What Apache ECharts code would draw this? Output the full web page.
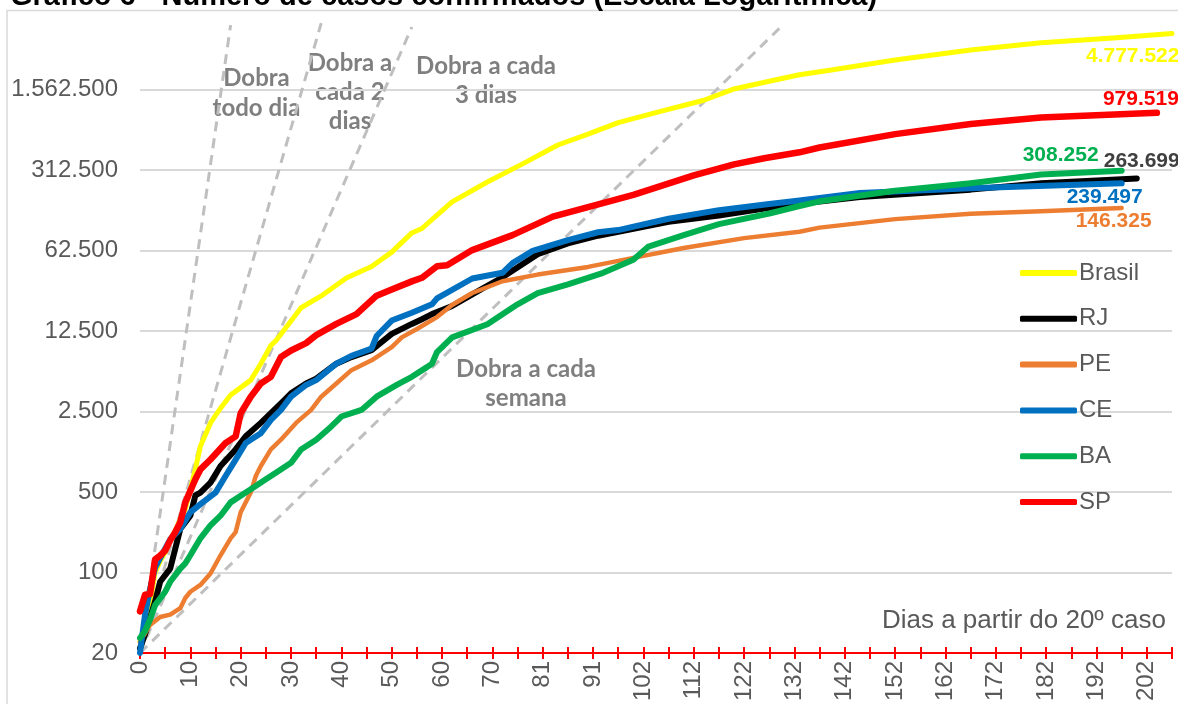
<!DOCTYPE html>
<html>
<head>
<meta charset="utf-8">
<script src="https://cdn.jsdelivr.net/npm/echarts@6/dist/echarts.min.js"></script>
<style>
html,body{margin:0;padding:0;background:#fff;}
#chart{width:1178px;height:704px;}
</style>
</head>
<body>
<div id="chart"></div>
<script>
// dias (indice) -> rotulo do eixo, a cada 10 pontos
var xTickLabels = ['0','10','20','30','40','50','60','70','81','91','102','112','122','132','142','152','162','172','182','192','202'];
var yTicks = [20, 100, 500, 2500, 12500, 62500, 312500, 1562500];

// [indice do dia, casos acumulados]
var brasil = [[0,25],[1,32],[2,55],[3,100],[4,125],[5,150],[6,190],[7,230],[8,290],[9,355],[11,790],[12,1250],[14,1990],[16,2670],[18,3480],[22,4680],[24,6500],[26,9350],[27,10300],[32,19900],[36,25200],[41,36100],[46,45300],[50,60500],[54,88800],[56,97000],[59,127000],[62,165000],[69,246000],[76,353000],[83,515000],[89,641000],[95,806000],[103,1000000],[112,1260000],[118,1580000],[125,1840000],[131,2100000],[137,2300000],[150,2820000],[165,3440000],[179,3970000],[194,4400000],[205,4777522]];
var rj = [[0,22],[1,29],[3,56],[4,83],[6,108],[7,161],[8,239],[10,311],[11,467],[12,494],[14,603],[16,840],[19,1170],[21,1520],[24,1990],[26,2413],[28,2940],[30,3590],[33,4376],[35,4820],[39,6500],[42,7420],[46,8500],[50,11800],[54,14400],[56,15800],[58,17500],[62,20600],[66,26000],[72,36600],[79,58000],[85,72000],[91,84000],[95,91000],[105,111000],[115,126000],[125,147000],[131,159000],[143,182000],[165,211000],[179,240000],[198,263699]];
var pe = [[0,25],[2,35],[4,41],[6,43],[8,49],[9,60],[10,68],[12,78],[14,98],[16,141],[18,198],[19,224],[20,333],[22,494],[23,688],[24,840],[26,1170],[28,1423],[31,1990],[34,2580],[36,3360],[39,4376],[42,5710],[46,6950],[50,9060],[52,11000],[55,13000],[59,16500],[62,21000],[66,26700],[72,33800],[79,38600],[89,45000],[99,55000],[108,65600],[120,80000],[131,91000],[135,98700],[150,117000],[165,130000],[179,137000],[195,146325]];
var ce = [[0,20],[1,43],[2,72],[3,110],[5,161],[6,194],[8,239],[10,333],[12,392],[15,494],[17,688],[19,955],[21,1330],[24,1620],[26,2115],[28,2580],[30,3360],[33,4250],[35,4680],[39,6500],[42,7600],[46,8780],[47,11300],[50,15400],[54,18000],[58,21300],[59,24000],[66,35700],[72,40000],[74,48600],[78,62000],[85,77000],[91,90000],[95,94000],[105,118000],[115,140000],[125,158000],[131,170000],[143,197000],[165,217000],[195,239497]];
var ba = [[0,27],[1,31],[2,39],[3,52],[5,68],[6,83],[8,108],[9,120],[10,141],[12,198],[14,256],[16,311],[18,406],[20,463],[22,528],[25,644],[27,735],[30,895],[32,1170],[35,1423],[38,1855],[40,2260],[44,2580],[47,3360],[51,4250],[54,4996],[57,6070],[58,6500],[59,8200],[62,11000],[69,14300],[75,21300],[79,26700],[85,31800],[92,40000],[98,51900],[101,67600],[108,85000],[115,106000],[125,131000],[131,152000],[135,167000],[150,206000],[165,240000],[179,285000],[195,308252]];
var sp = [[0,46],[1,64],[2,65],[3,130],[4,140],[5,155],[6,190],[7,224],[8,273],[9,406],[11,644],[12,785],[14,957],[17,1332],[19,1520],[20,2413],[22,3360],[24,4376],[26,4996],[28,7420],[30,8468],[33,9800],[35,11500],[39,14400],[43,17500],[47,25300],[50,28700],[54,33700],[56,36200],[59,45600],[61,46500],[66,63000],[74,85000],[82,123000],[89,149000],[98,190000],[102,216000],[110,281000],[118,350000],[124,395000],[131,445000],[135,490000],[150,640000],[165,783000],[179,894000],[202,979519]];

// retas de referencia (duplicacao)
var refDaily = [[0,20],[18,5660000]];
var ref2Days = [[0,20],[36,5900000]];
var ref3Days = [[0,20],[54,5450000]];
var refWeek = [[0,20],[127,5300000]];

function fmt(v){
	return String(Math.round(v)).replace(/\B(?=(\d{3})+(?!\d))/g, '.');
}

function dataSeries(name, data, color, width, labelColor, off){
	return {
		name: name,
		type: 'line',
		data: data,
		symbol: 'none',
		lineStyle: {color: color, width: width, cap: 'round', join: 'round'},
		itemStyle: {color: color},
		endLabel: {
			show: true,
			distance: 0,
			offset: off,
			align: 'left',
			color: labelColor,
			fontSize: 21,
			fontWeight: 'bold',
			fontFamily: 'Liberation Sans',
			formatter: function(p){ return fmt(p.value[1]); }
		},
		animation: false
	};
}

function refSeries(name, data){
	return {
		name: name,
		type: 'line',
		data: data,
		symbol: 'none',
		silent: true,
		lineStyle: {color: '#BFBFBF', width: 3, type: [10, 7]},
		animation: false
	};
}

var myChart = echarts.init(document.getElementById('chart'));
var option = {
	backgroundColor: '#fff',
	animation: false,
	grid: {left: 140, right: 6, top: 9, bottom: 45.5, containLabel: false},
	legend: {
		data: ['Brasil','RJ','PE','CE','BA','SP'],
		orient: 'vertical',
		left: 1020,
		top: 261,
		padding: 0,
		icon: 'roundRect',
		itemWidth: 57,
		itemHeight: 6,
		itemGap: 21.8,
		textStyle: {fontSize: 24, color: '#595959', fontFamily: 'Liberation Sans', lineHeight: 24, padding: [0, 0, 0, -3]}
	},
	xAxis: [{
		type: 'value',
		min: 0,
		max: 205,
		interval: 5,
		axisLine: {lineStyle: {color: '#FF0000', width: 2}},
		axisTick: {length: 6, lineStyle: {color: '#FF0000', width: 2}},
		axisLabel: {
			rotate: 90,
			margin: 8,
			fontSize: 24,
			color: '#595959',
			fontFamily: 'Liberation Sans',
			formatter: function(v){ return v % 10 === 0 ? xTickLabels[v / 10] : ''; }
		},
		splitLine: {show: false}
	}, {
		type: 'value',
		position: 'bottom',
		min: 0,
		max: 205,
		interval: 5,
		axisLine: {show: false},
		axisTick: {inside: true, length: 6, lineStyle: {color: '#FF0000', width: 2}},
		axisLabel: {show: false},
		splitLine: {show: false}
	}],
	yAxis: {
		type: 'log',
		logBase: 5,
		min: 20,
		max: 7812500,
		axisLine: {show: false},
		axisTick: {show: false, customValues: yTicks},
		axisLabel: {
			customValues: yTicks,
			margin: 22,
			fontSize: 24,
			color: '#595959',
			fontFamily: 'Liberation Sans',
			formatter: fmt
		},
		splitLine: {lineStyle: {color: '#D9D9D9', width: 2}}
	},
	graphic: [
		{type: 'rect', silent: true, shape: {x: 7, y: 10.5, width: 1300, height: 900}, style: {fill: 'none', stroke: '#D9D9D9', lineWidth: 1.5}},
		{type: 'text', x: 10, y: -3, style: {text: 'Gráfico 6 - Número de casos confirmados (Escala Logarítmica)', font: 'bold 29px "Liberation Sans"', fill: '#000', textVerticalAlign: 'middle'}},
		{type: 'text', x: 256.5, y: 93, style: {text: 'Dobra\ntodo dia', font: 'bold 24px Lato', lineHeight: 30, fill: '#7F7F7F', textAlign: 'center', textVerticalAlign: 'middle'}},
		{type: 'text', x: 350, y: 92, style: {text: 'Dobra a\ncada 2\ndias', font: 'bold 24px Lato', lineHeight: 29, fill: '#7F7F7F', textAlign: 'center', textVerticalAlign: 'middle'}},
		{type: 'text', x: 486, y: 81, style: {text: 'Dobra a cada\n3 dias', font: 'bold 24px Lato', lineHeight: 29, fill: '#7F7F7F', textAlign: 'center', textVerticalAlign: 'middle'}},
		{type: 'text', x: 526, y: 383.5, style: {text: 'Dobra a cada\nsemana', font: 'bold 24px Lato', lineHeight: 29, fill: '#7F7F7F', textAlign: 'center', textVerticalAlign: 'middle'}},
		{type: 'text', right: 12, y: 608, style: {text: 'Dias a partir do 20º caso', font: '26px "Liberation Sans"', fill: '#595959'}}
	],
	series: [
		refSeries('ref1', refDaily),
		refSeries('ref2', ref2Days),
		refSeries('ref3', ref3Days),
		refSeries('ref7', refWeek),
		dataSeries('Brasil', brasil, '#FFFF00', 5, '#FFFF00', [-86, 23]),
		dataSeries('RJ', rj, '#000000', 6, '#404040', [-33, -17]),
		dataSeries('PE', pe, '#ED7D31', 4.5, '#ED7D31', [-46, 13.5]),
		dataSeries('CE', ce, '#0070C0', 6, '#0070C0', [-55, 14.3]),
		dataSeries('BA', ba, '#00B050', 6, '#00B050', [-99, -15]),
		dataSeries('SP', sp, '#FF0000', 6.5, '#FF0000', [-54, -13.6])
	]
};
myChart.setOption(option);
</script>
</body>
</html>
